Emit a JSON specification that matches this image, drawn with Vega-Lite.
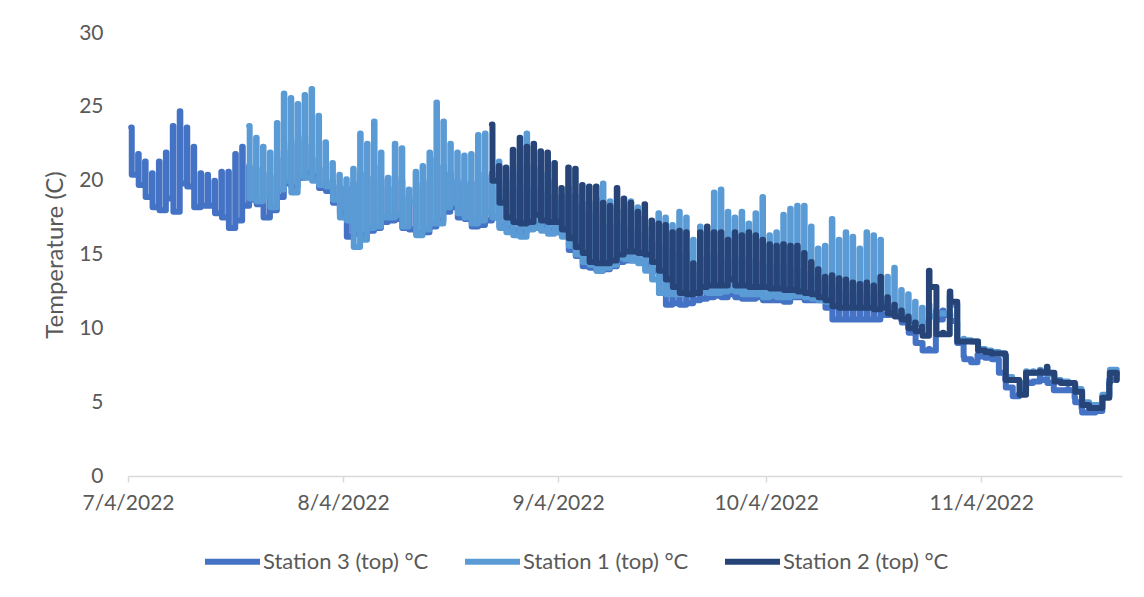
{
"$schema":"https://vega.github.io/schema/vega-lite/v6.json",
"width":994,"height":443,
"autosize":{"type":"none"},
"padding":{"left":128,"top":33,"right":22,"bottom":121},
"background":"white",
"config":{"view":{"stroke":null},"font":"Lato"},
"datasets":{
"s3":[
{"t":"2022-07-04 11:00","v":23.6},{"t":"2022-07-04 13:00","v":20.4},
{"t":"2022-07-05 11:00","v":21.8},{"t":"2022-07-05 13:00","v":19.7},
{"t":"2022-07-06 11:00","v":21.3},{"t":"2022-07-06 13:00","v":18.9},
{"t":"2022-07-07 11:00","v":20.5},{"t":"2022-07-07 13:00","v":18.2},
{"t":"2022-07-08 11:00","v":21.3},{"t":"2022-07-08 13:00","v":18.0},
{"t":"2022-07-09 11:00","v":21.9},{"t":"2022-07-09 13:00","v":18.8},
{"t":"2022-07-10 11:00","v":23.7},{"t":"2022-07-10 13:00","v":17.9},
{"t":"2022-07-11 11:00","v":24.7},{"t":"2022-07-11 13:00","v":19.8},
{"t":"2022-07-12 11:00","v":23.6},{"t":"2022-07-12 13:00","v":19.6},
{"t":"2022-07-13 11:00","v":22.3},{"t":"2022-07-13 13:00","v":18.2},
{"t":"2022-07-14 11:00","v":20.5},{"t":"2022-07-14 13:00","v":18.3},
{"t":"2022-07-15 11:00","v":20.4},{"t":"2022-07-15 13:00","v":18.3},
{"t":"2022-07-16 11:00","v":20.0},{"t":"2022-07-16 13:00","v":17.8},
{"t":"2022-07-17 11:00","v":20.6},{"t":"2022-07-17 13:00","v":17.5},
{"t":"2022-07-18 11:00","v":20.6},{"t":"2022-07-18 13:00","v":16.8},
{"t":"2022-07-19 11:00","v":21.8},{"t":"2022-07-19 13:00","v":17.3},
{"t":"2022-07-20 11:00","v":22.3},{"t":"2022-07-20 13:00","v":18.3},
{"t":"2022-07-21 11:00","v":21.0},{"t":"2022-07-21 13:00","v":18.7},
{"t":"2022-07-22 11:00","v":20.8},{"t":"2022-07-22 13:00","v":18.4},
{"t":"2022-07-23 11:00","v":20.5},{"t":"2022-07-23 13:00","v":17.5},
{"t":"2022-07-24 11:00","v":20.3},{"t":"2022-07-24 13:00","v":18.0},
{"t":"2022-07-25 11:00","v":21.5},{"t":"2022-07-25 13:00","v":18.9},
{"t":"2022-07-26 11:00","v":22.0},{"t":"2022-07-26 13:00","v":19.8},
{"t":"2022-07-27 11:00","v":22.5},{"t":"2022-07-27 13:00","v":19.6},
{"t":"2022-07-28 11:00","v":22.8},{"t":"2022-07-28 13:00","v":20.2},
{"t":"2022-07-29 11:00","v":23.0},{"t":"2022-07-29 13:00","v":20.5},
{"t":"2022-07-30 11:00","v":22.4},{"t":"2022-07-30 13:00","v":20.3},
{"t":"2022-07-31 11:00","v":21.5},{"t":"2022-07-31 13:00","v":19.5},
{"t":"2022-08-01 11:00","v":20.8},{"t":"2022-08-01 13:00","v":19.3},
{"t":"2022-08-02 11:00","v":20.0},{"t":"2022-08-02 13:00","v":18.5},
{"t":"2022-08-03 11:00","v":19.6},{"t":"2022-08-03 13:00","v":17.8},
{"t":"2022-08-04 11:00","v":19.5},{"t":"2022-08-04 13:00","v":16.2},
{"t":"2022-08-05 11:00","v":19.8},{"t":"2022-08-05 13:00","v":16.4},
{"t":"2022-08-06 11:00","v":20.5},{"t":"2022-08-06 13:00","v":16.3},
{"t":"2022-08-07 11:00","v":20.2},{"t":"2022-08-07 13:00","v":16.6},
{"t":"2022-08-08 11:00","v":21.0},{"t":"2022-08-08 13:00","v":16.8},
{"t":"2022-08-09 11:00","v":20.0},{"t":"2022-08-09 13:00","v":17.2},
{"t":"2022-08-10 11:00","v":19.5},{"t":"2022-08-10 13:00","v":17.3},
{"t":"2022-08-11 11:00","v":20.3},{"t":"2022-08-11 13:00","v":17.4},
{"t":"2022-08-12 11:00","v":20.0},{"t":"2022-08-12 13:00","v":16.8},
{"t":"2022-08-13 11:00","v":18.9},{"t":"2022-08-13 13:00","v":16.7},
{"t":"2022-08-14 11:00","v":19.5},{"t":"2022-08-14 13:00","v":16.4},
{"t":"2022-08-15 11:00","v":19.8},{"t":"2022-08-15 13:00","v":16.5},
{"t":"2022-08-16 11:00","v":20.0},{"t":"2022-08-16 13:00","v":16.9},
{"t":"2022-08-17 11:00","v":21.5},{"t":"2022-08-17 13:00","v":17.3},
{"t":"2022-08-18 11:00","v":21.0},{"t":"2022-08-18 13:00","v":17.9},
{"t":"2022-08-19 11:00","v":20.5},{"t":"2022-08-19 13:00","v":18.2},
{"t":"2022-08-20 11:00","v":20.0},{"t":"2022-08-20 13:00","v":17.5},
{"t":"2022-08-21 11:00","v":19.8},{"t":"2022-08-21 13:00","v":17.4},
{"t":"2022-08-22 11:00","v":19.9},{"t":"2022-08-22 13:00","v":16.9},
{"t":"2022-08-23 11:00","v":20.5},{"t":"2022-08-23 13:00","v":17.0},
{"t":"2022-08-24 11:00","v":20.3},{"t":"2022-08-24 13:00","v":17.3},
{"t":"2022-08-25 11:00","v":20.0},{"t":"2022-08-25 13:00","v":17.5},
{"t":"2022-08-26 11:00","v":19.5},{"t":"2022-08-26 13:00","v":16.9},
{"t":"2022-08-27 11:00","v":19.0},{"t":"2022-08-27 13:00","v":16.8},
{"t":"2022-08-28 11:00","v":19.5},{"t":"2022-08-28 13:00","v":16.6},
{"t":"2022-08-29 11:00","v":19.8},{"t":"2022-08-29 13:00","v":16.5},
{"t":"2022-08-30 11:00","v":19.6},{"t":"2022-08-30 13:00","v":16.8},
{"t":"2022-08-31 11:00","v":19.5},{"t":"2022-08-31 13:00","v":17.0},
{"t":"2022-09-01 11:00","v":19.3},{"t":"2022-09-01 13:00","v":16.9},
{"t":"2022-09-02 11:00","v":19.2},{"t":"2022-09-02 13:00","v":16.6},
{"t":"2022-09-03 11:00","v":19.0},{"t":"2022-09-03 13:00","v":16.5},
{"t":"2022-09-04 11:00","v":18.5},{"t":"2022-09-04 13:00","v":16.3},
{"t":"2022-09-05 11:00","v":18.5},{"t":"2022-09-05 13:00","v":15.3},
{"t":"2022-09-06 11:00","v":18.3},{"t":"2022-09-06 13:00","v":14.9},
{"t":"2022-09-07 11:00","v":17.9},{"t":"2022-09-07 13:00","v":14.2},
{"t":"2022-09-08 11:00","v":17.8},{"t":"2022-09-08 13:00","v":14.1},
{"t":"2022-09-09 11:00","v":17.6},{"t":"2022-09-09 13:00","v":13.9},
{"t":"2022-09-10 11:00","v":17.0},{"t":"2022-09-10 13:00","v":14.0},
{"t":"2022-09-11 11:00","v":17.0},{"t":"2022-09-11 13:00","v":14.2},
{"t":"2022-09-12 11:00","v":17.2},{"t":"2022-09-12 13:00","v":14.5},
{"t":"2022-09-13 11:00","v":17.0},{"t":"2022-09-13 13:00","v":14.6},
{"t":"2022-09-14 11:00","v":16.8},{"t":"2022-09-14 13:00","v":14.6},
{"t":"2022-09-15 11:00","v":16.5},{"t":"2022-09-15 13:00","v":14.5},
{"t":"2022-09-16 11:00","v":16.5},{"t":"2022-09-16 13:00","v":14.3},
{"t":"2022-09-17 11:00","v":16.0},{"t":"2022-09-17 13:00","v":13.9},
{"t":"2022-09-18 11:00","v":15.8},{"t":"2022-09-18 13:00","v":12.4},
{"t":"2022-09-19 11:00","v":15.5},{"t":"2022-09-19 13:00","v":11.6},
{"t":"2022-09-20 11:00","v":15.2},{"t":"2022-09-20 13:00","v":11.7},
{"t":"2022-09-21 11:00","v":15.0},{"t":"2022-09-21 13:00","v":11.6},
{"t":"2022-09-22 11:00","v":15.0},{"t":"2022-09-22 13:00","v":11.7},
{"t":"2022-09-23 11:00","v":13.8},{"t":"2022-09-23 13:00","v":11.9},
{"t":"2022-09-24 11:00","v":14.8},{"t":"2022-09-24 13:00","v":12.0},
{"t":"2022-09-25 11:00","v":15.0},{"t":"2022-09-25 13:00","v":12.1},
{"t":"2022-09-26 11:00","v":15.0},{"t":"2022-09-26 13:00","v":12.2},
{"t":"2022-09-27 11:00","v":14.8},{"t":"2022-09-27 13:00","v":12.1},
{"t":"2022-09-28 11:00","v":14.6},{"t":"2022-09-28 13:00","v":12.3},
{"t":"2022-09-29 11:00","v":14.8},{"t":"2022-09-29 13:00","v":12.1},
{"t":"2022-09-30 11:00","v":14.7},{"t":"2022-09-30 13:00","v":12.0},
{"t":"2022-10-01 11:00","v":14.8},{"t":"2022-10-01 13:00","v":12.0},
{"t":"2022-10-02 11:00","v":14.6},{"t":"2022-10-02 13:00","v":12.1},
{"t":"2022-10-03 11:00","v":14.5},{"t":"2022-10-03 13:00","v":11.9},
{"t":"2022-10-04 11:00","v":14.3},{"t":"2022-10-04 13:00","v":11.9},
{"t":"2022-10-05 11:00","v":14.2},{"t":"2022-10-05 13:00","v":11.9},
{"t":"2022-10-06 11:00","v":14.2},{"t":"2022-10-06 13:00","v":11.8},
{"t":"2022-10-07 11:00","v":14.0},{"t":"2022-10-07 13:00","v":12.1},
{"t":"2022-10-08 11:00","v":14.0},{"t":"2022-10-08 13:00","v":12.1},
{"t":"2022-10-09 11:00","v":13.8},{"t":"2022-10-09 13:00","v":11.9},
{"t":"2022-10-10 11:00","v":13.5},{"t":"2022-10-10 13:00","v":11.9},
{"t":"2022-10-11 11:00","v":13.2},{"t":"2022-10-11 13:00","v":11.9},
{"t":"2022-10-12 11:00","v":12.9},{"t":"2022-10-12 13:00","v":11.4},
{"t":"2022-10-13 11:00","v":12.8},{"t":"2022-10-13 13:00","v":10.6},
{"t":"2022-10-14 11:00","v":12.6},{"t":"2022-10-14 13:00","v":10.6},
{"t":"2022-10-15 11:00","v":12.5},{"t":"2022-10-15 13:00","v":10.6},
{"t":"2022-10-16 11:00","v":12.4},{"t":"2022-10-16 13:00","v":10.6},
{"t":"2022-10-17 11:00","v":12.3},{"t":"2022-10-17 13:00","v":10.6},
{"t":"2022-10-18 11:00","v":12.4},{"t":"2022-10-18 13:00","v":10.6},
{"t":"2022-10-19 11:00","v":12.2},{"t":"2022-10-19 13:00","v":10.6},
{"t":"2022-10-20 11:00","v":12.5},{"t":"2022-10-20 13:00","v":10.9},
{"t":"2022-10-21 11:00","v":11.5},{"t":"2022-10-21 13:00","v":10.9},
{"t":"2022-10-22 11:00","v":11.0},{"t":"2022-10-22 13:00","v":10.9},
{"t":"2022-10-23 11:00","v":10.6},{"t":"2022-10-23 13:00","v":10.4},
{"t":"2022-10-24 11:00","v":10.0},{"t":"2022-10-24 13:00","v":9.7},
{"t":"2022-10-25 11:00","v":9.7},{"t":"2022-10-25 13:00","v":9.0},
{"t":"2022-10-26 11:00","v":9.0},{"t":"2022-10-26 13:00","v":8.5},
{"t":"2022-10-27 11:00","v":8.6},{"t":"2022-10-27 13:00","v":8.5},
{"t":"2022-10-28 11:00","v":10.8},{"t":"2022-10-28 13:00","v":10.6},
{"t":"2022-10-29 11:00","v":11.2},{"t":"2022-10-29 13:00","v":10.9},
{"t":"2022-10-30 11:00","v":11.0},{"t":"2022-10-30 13:00","v":10.5},
{"t":"2022-10-31 11:00","v":10.4},{"t":"2022-10-31 13:00","v":9.0},
{"t":"2022-11-01 11:00","v":8.1},{"t":"2022-11-01 13:00","v":7.9},
{"t":"2022-11-02 11:00","v":7.9},{"t":"2022-11-02 13:00","v":7.7},
{"t":"2022-11-03 11:00","v":8.2},{"t":"2022-11-03 13:00","v":8.1},
{"t":"2022-11-04 11:00","v":8.1},{"t":"2022-11-04 13:00","v":8.0},
{"t":"2022-11-05 11:00","v":8.0},{"t":"2022-11-05 13:00","v":7.9},
{"t":"2022-11-06 11:00","v":7.9},{"t":"2022-11-06 13:00","v":7.0},
{"t":"2022-11-07 11:00","v":6.5},{"t":"2022-11-07 13:00","v":6.0},
{"t":"2022-11-08 11:00","v":6.0},{"t":"2022-11-08 13:00","v":5.4},
{"t":"2022-11-09 11:00","v":5.6},{"t":"2022-11-09 13:00","v":5.6},
{"t":"2022-11-10 11:00","v":6.5},{"t":"2022-11-10 13:00","v":6.3},
{"t":"2022-11-11 11:00","v":6.4},{"t":"2022-11-11 13:00","v":6.4},
{"t":"2022-11-12 11:00","v":6.8},{"t":"2022-11-12 13:00","v":6.5},
{"t":"2022-11-13 11:00","v":6.6},{"t":"2022-11-13 13:00","v":6.3},
{"t":"2022-11-14 11:00","v":5.8},{"t":"2022-11-14 13:00","v":5.8},
{"t":"2022-11-15 11:00","v":5.8},{"t":"2022-11-15 13:00","v":5.8},
{"t":"2022-11-16 11:00","v":5.9},{"t":"2022-11-16 13:00","v":5.8},
{"t":"2022-11-17 11:00","v":5.3},{"t":"2022-11-17 13:00","v":5.0},
{"t":"2022-11-18 11:00","v":4.6},{"t":"2022-11-18 13:00","v":4.3},
{"t":"2022-11-19 11:00","v":4.3},{"t":"2022-11-19 13:00","v":4.3},
{"t":"2022-11-20 11:00","v":4.4},{"t":"2022-11-20 13:00","v":4.4},
{"t":"2022-11-21 11:00","v":5.4},{"t":"2022-11-21 13:00","v":5.4},
{"t":"2022-11-22 11:00","v":6.5},{"t":"2022-11-22 13:00","v":6.5},
{"t":"2022-11-23 11:00","v":7.0},{"t":"2022-11-23 13:00","v":6.9}
],
"s1":[
{"t":"2022-07-21 11:00","v":23.7},{"t":"2022-07-21 13:00","v":18.8},
{"t":"2022-07-22 11:00","v":22.9},{"t":"2022-07-22 13:00","v":18.6},
{"t":"2022-07-23 11:00","v":22.3},{"t":"2022-07-23 13:00","v":19.0},
{"t":"2022-07-24 11:00","v":21.9},{"t":"2022-07-24 13:00","v":18.2},
{"t":"2022-07-25 11:00","v":23.9},{"t":"2022-07-25 13:00","v":19.4},
{"t":"2022-07-26 11:00","v":25.9},{"t":"2022-07-26 13:00","v":20.0},
{"t":"2022-07-27 11:00","v":25.6},{"t":"2022-07-27 13:00","v":19.2},
{"t":"2022-07-28 11:00","v":25.2},{"t":"2022-07-28 13:00","v":20.3},
{"t":"2022-07-29 11:00","v":25.8},{"t":"2022-07-29 13:00","v":20.2},
{"t":"2022-07-30 11:00","v":26.2},{"t":"2022-07-30 13:00","v":20.0},
{"t":"2022-07-31 11:00","v":24.4},{"t":"2022-07-31 13:00","v":19.7},
{"t":"2022-08-01 11:00","v":22.6},{"t":"2022-08-01 13:00","v":19.6},
{"t":"2022-08-02 11:00","v":21.2},{"t":"2022-08-02 13:00","v":18.7},
{"t":"2022-08-03 11:00","v":20.4},{"t":"2022-08-03 13:00","v":17.5},
{"t":"2022-08-04 11:00","v":20.1},{"t":"2022-08-04 13:00","v":17.3},
{"t":"2022-08-05 11:00","v":20.8},{"t":"2022-08-05 13:00","v":15.5},
{"t":"2022-08-06 11:00","v":23.2},{"t":"2022-08-06 13:00","v":16.0},
{"t":"2022-08-07 11:00","v":22.5},{"t":"2022-08-07 13:00","v":16.8},
{"t":"2022-08-08 11:00","v":24.0},{"t":"2022-08-08 13:00","v":16.9},
{"t":"2022-08-09 11:00","v":21.9},{"t":"2022-08-09 13:00","v":17.5},
{"t":"2022-08-10 11:00","v":20.2},{"t":"2022-08-10 13:00","v":17.5},
{"t":"2022-08-11 11:00","v":22.5},{"t":"2022-08-11 13:00","v":17.7},
{"t":"2022-08-12 11:00","v":22.2},{"t":"2022-08-12 13:00","v":16.9},
{"t":"2022-08-13 11:00","v":19.4},{"t":"2022-08-13 13:00","v":18.5},
{"t":"2022-08-14 11:00","v":20.6},{"t":"2022-08-14 13:00","v":16.3},
{"t":"2022-08-15 11:00","v":21.0},{"t":"2022-08-15 13:00","v":16.7},
{"t":"2022-08-16 11:00","v":21.9},{"t":"2022-08-16 13:00","v":17.1},
{"t":"2022-08-17 11:00","v":25.3},{"t":"2022-08-17 13:00","v":17.1},
{"t":"2022-08-18 11:00","v":24.0},{"t":"2022-08-18 13:00","v":18.2},
{"t":"2022-08-19 11:00","v":22.5},{"t":"2022-08-19 13:00","v":18.5},
{"t":"2022-08-20 11:00","v":21.9},{"t":"2022-08-20 13:00","v":17.8},
{"t":"2022-08-21 11:00","v":21.7},{"t":"2022-08-21 13:00","v":17.5},
{"t":"2022-08-22 11:00","v":21.8},{"t":"2022-08-22 13:00","v":17.1},
{"t":"2022-08-23 11:00","v":23.1},{"t":"2022-08-23 13:00","v":17.3},
{"t":"2022-08-24 11:00","v":23.2},{"t":"2022-08-24 13:00","v":17.9},
{"t":"2022-08-25 11:00","v":20.5},{"t":"2022-08-25 13:00","v":17.5},
{"t":"2022-08-26 11:00","v":21.3},{"t":"2022-08-26 13:00","v":16.8},
{"t":"2022-08-27 11:00","v":20.0},{"t":"2022-08-27 13:00","v":16.5},
{"t":"2022-08-28 11:00","v":20.5},{"t":"2022-08-28 13:00","v":16.3},
{"t":"2022-08-29 11:00","v":21.0},{"t":"2022-08-29 13:00","v":16.2},
{"t":"2022-08-30 11:00","v":23.2},{"t":"2022-08-30 13:00","v":16.7},
{"t":"2022-08-31 11:00","v":21.0},{"t":"2022-08-31 13:00","v":16.8},
{"t":"2022-09-01 11:00","v":20.8},{"t":"2022-09-01 13:00","v":16.6},
{"t":"2022-09-02 11:00","v":20.5},{"t":"2022-09-02 13:00","v":16.4},
{"t":"2022-09-03 11:00","v":20.0},{"t":"2022-09-03 13:00","v":16.5},
{"t":"2022-09-04 11:00","v":19.0},{"t":"2022-09-04 13:00","v":16.2},
{"t":"2022-09-05 11:00","v":19.5},{"t":"2022-09-05 13:00","v":15.6},
{"t":"2022-09-06 11:00","v":19.0},{"t":"2022-09-06 13:00","v":15.0},
{"t":"2022-09-07 11:00","v":18.5},{"t":"2022-09-07 13:00","v":14.5},
{"t":"2022-09-08 11:00","v":18.5},{"t":"2022-09-08 13:00","v":14.3},
{"t":"2022-09-09 11:00","v":18.8},{"t":"2022-09-09 13:00","v":13.9},
{"t":"2022-09-10 11:00","v":19.8},{"t":"2022-09-10 13:00","v":14.1},
{"t":"2022-09-11 11:00","v":18.6},{"t":"2022-09-11 13:00","v":14.3},
{"t":"2022-09-12 11:00","v":18.0},{"t":"2022-09-12 13:00","v":14.8},
{"t":"2022-09-13 11:00","v":18.0},{"t":"2022-09-13 13:00","v":14.7},
{"t":"2022-09-14 11:00","v":18.6},{"t":"2022-09-14 13:00","v":14.6},
{"t":"2022-09-15 11:00","v":18.2},{"t":"2022-09-15 13:00","v":14.4},
{"t":"2022-09-16 11:00","v":17.5},{"t":"2022-09-16 13:00","v":13.9},
{"t":"2022-09-17 11:00","v":16.8},{"t":"2022-09-17 13:00","v":13.3},
{"t":"2022-09-18 11:00","v":17.8},{"t":"2022-09-18 13:00","v":12.4},
{"t":"2022-09-19 11:00","v":17.5},{"t":"2022-09-19 13:00","v":12.3},
{"t":"2022-09-20 11:00","v":17.0},{"t":"2022-09-20 13:00","v":12.3},
{"t":"2022-09-21 11:00","v":17.9},{"t":"2022-09-21 13:00","v":12.3},
{"t":"2022-09-22 11:00","v":17.5},{"t":"2022-09-22 13:00","v":12.4},
{"t":"2022-09-23 11:00","v":16.0},{"t":"2022-09-23 13:00","v":12.5},
{"t":"2022-09-24 11:00","v":16.9},{"t":"2022-09-24 13:00","v":12.5},
{"t":"2022-09-25 11:00","v":16.5},{"t":"2022-09-25 13:00","v":12.4},
{"t":"2022-09-26 11:00","v":19.2},{"t":"2022-09-26 13:00","v":12.4},
{"t":"2022-09-27 11:00","v":19.4},{"t":"2022-09-27 13:00","v":12.5},
{"t":"2022-09-28 11:00","v":17.9},{"t":"2022-09-28 13:00","v":12.6},
{"t":"2022-09-29 11:00","v":17.5},{"t":"2022-09-29 13:00","v":12.5},
{"t":"2022-09-30 11:00","v":17.9},{"t":"2022-09-30 13:00","v":12.3},
{"t":"2022-10-01 11:00","v":17.1},{"t":"2022-10-01 13:00","v":12.3},
{"t":"2022-10-02 11:00","v":17.8},{"t":"2022-10-02 13:00","v":12.3},
{"t":"2022-10-03 11:00","v":18.9},{"t":"2022-10-03 13:00","v":12.1},
{"t":"2022-10-04 11:00","v":16.3},{"t":"2022-10-04 13:00","v":12.2},
{"t":"2022-10-05 11:00","v":16.5},{"t":"2022-10-05 13:00","v":12.1},
{"t":"2022-10-06 11:00","v":17.7},{"t":"2022-10-06 13:00","v":12.1},
{"t":"2022-10-07 11:00","v":18.1},{"t":"2022-10-07 13:00","v":12.2},
{"t":"2022-10-08 11:00","v":18.3},{"t":"2022-10-08 13:00","v":12.2},
{"t":"2022-10-09 11:00","v":18.3},{"t":"2022-10-09 13:00","v":12.1},
{"t":"2022-10-10 11:00","v":16.9},{"t":"2022-10-10 13:00","v":12.0},
{"t":"2022-10-11 11:00","v":15.4},{"t":"2022-10-11 13:00","v":11.9},
{"t":"2022-10-12 11:00","v":15.6},{"t":"2022-10-12 13:00","v":11.8},
{"t":"2022-10-13 11:00","v":17.4},{"t":"2022-10-13 13:00","v":11.6},
{"t":"2022-10-14 11:00","v":16.0},{"t":"2022-10-14 13:00","v":11.6},
{"t":"2022-10-15 11:00","v":16.5},{"t":"2022-10-15 13:00","v":11.6},
{"t":"2022-10-16 11:00","v":16.2},{"t":"2022-10-16 13:00","v":11.6},
{"t":"2022-10-17 11:00","v":15.4},{"t":"2022-10-17 13:00","v":11.6},
{"t":"2022-10-18 11:00","v":16.5},{"t":"2022-10-18 13:00","v":11.6},
{"t":"2022-10-19 11:00","v":16.3},{"t":"2022-10-19 13:00","v":11.6},
{"t":"2022-10-20 11:00","v":16.0},{"t":"2022-10-20 13:00","v":11.7},
{"t":"2022-10-21 11:00","v":13.5},{"t":"2022-10-21 13:00","v":11.3},
{"t":"2022-10-22 11:00","v":14.1},{"t":"2022-10-22 13:00","v":11.1},
{"t":"2022-10-23 11:00","v":12.6},{"t":"2022-10-23 13:00","v":10.9},
{"t":"2022-10-24 11:00","v":12.3},{"t":"2022-10-24 13:00","v":10.5},
{"t":"2022-10-25 11:00","v":11.8},{"t":"2022-10-25 13:00","v":10.3},
{"t":"2022-10-26 11:00","v":11.4},{"t":"2022-10-26 13:00","v":10.4},
{"t":"2022-10-27 11:00","v":11.6},{"t":"2022-10-27 13:00","v":10.8},
{"t":"2022-10-28 11:00","v":11.2},{"t":"2022-10-28 13:00","v":11.0},
{"t":"2022-10-29 11:00","v":11.0},{"t":"2022-10-29 13:00","v":11.0},
{"t":"2022-10-30 11:00","v":12.2},{"t":"2022-10-30 13:00","v":11.6},
{"t":"2022-10-31 11:00","v":11.6},{"t":"2022-10-31 13:00","v":9.2},
{"t":"2022-11-01 11:00","v":9.3},{"t":"2022-11-01 13:00","v":9.2},
{"t":"2022-11-02 11:00","v":9.2},{"t":"2022-11-02 13:00","v":9.1},
{"t":"2022-11-03 11:00","v":9.1},{"t":"2022-11-03 13:00","v":8.6},
{"t":"2022-11-04 11:00","v":8.6},{"t":"2022-11-04 13:00","v":8.5},
{"t":"2022-11-05 11:00","v":8.4},{"t":"2022-11-05 13:00","v":8.4},
{"t":"2022-11-06 11:00","v":8.4},{"t":"2022-11-06 13:00","v":8.3},
{"t":"2022-11-07 11:00","v":8.1},{"t":"2022-11-07 13:00","v":6.7},
{"t":"2022-11-08 11:00","v":6.6},{"t":"2022-11-08 13:00","v":6.5},
{"t":"2022-11-09 11:00","v":6.4},{"t":"2022-11-09 13:00","v":5.8},
{"t":"2022-11-10 11:00","v":7.1},{"t":"2022-11-10 13:00","v":7.0},
{"t":"2022-11-11 11:00","v":7.1},{"t":"2022-11-11 13:00","v":7.0},
{"t":"2022-11-12 11:00","v":7.2},{"t":"2022-11-12 13:00","v":7.1},
{"t":"2022-11-13 11:00","v":7.3},{"t":"2022-11-13 13:00","v":6.9},
{"t":"2022-11-14 11:00","v":6.8},{"t":"2022-11-14 13:00","v":6.5},
{"t":"2022-11-15 11:00","v":6.4},{"t":"2022-11-15 13:00","v":6.4},
{"t":"2022-11-16 11:00","v":6.4},{"t":"2022-11-16 13:00","v":6.3},
{"t":"2022-11-17 11:00","v":6.3},{"t":"2022-11-17 13:00","v":5.9},
{"t":"2022-11-18 11:00","v":5.8},{"t":"2022-11-18 13:00","v":5.0},
{"t":"2022-11-19 11:00","v":5.0},{"t":"2022-11-19 13:00","v":4.8},
{"t":"2022-11-20 11:00","v":4.8},{"t":"2022-11-20 13:00","v":4.8},
{"t":"2022-11-21 11:00","v":5.5},{"t":"2022-11-21 13:00","v":5.5},
{"t":"2022-11-22 11:00","v":6.5},{"t":"2022-11-22 13:00","v":7.2},
{"t":"2022-11-23 11:00","v":7.2},{"t":"2022-11-23 13:00","v":7.2}
],
"s2":[
{"t":"2022-08-25 11:00","v":23.8},{"t":"2022-08-25 13:00","v":20.0},
{"t":"2022-08-26 11:00","v":21.0},{"t":"2022-08-26 13:00","v":18.5},
{"t":"2022-08-27 11:00","v":20.9},{"t":"2022-08-27 13:00","v":17.5},
{"t":"2022-08-28 11:00","v":22.1},{"t":"2022-08-28 13:00","v":17.2},
{"t":"2022-08-29 11:00","v":22.9},{"t":"2022-08-29 13:00","v":17.1},
{"t":"2022-08-30 11:00","v":22.3},{"t":"2022-08-30 13:00","v":17.2},
{"t":"2022-08-31 11:00","v":22.5},{"t":"2022-08-31 13:00","v":17.7},
{"t":"2022-09-01 11:00","v":22.0},{"t":"2022-09-01 13:00","v":17.3},
{"t":"2022-09-02 11:00","v":21.9},{"t":"2022-09-02 13:00","v":17.2},
{"t":"2022-09-03 11:00","v":21.2},{"t":"2022-09-03 13:00","v":17.2},
{"t":"2022-09-04 11:00","v":19.5},{"t":"2022-09-04 13:00","v":16.7},
{"t":"2022-09-05 11:00","v":20.9},{"t":"2022-09-05 13:00","v":16.1},
{"t":"2022-09-06 11:00","v":20.8},{"t":"2022-09-06 13:00","v":15.5},
{"t":"2022-09-07 11:00","v":19.7},{"t":"2022-09-07 13:00","v":15.1},
{"t":"2022-09-08 11:00","v":19.6},{"t":"2022-09-08 13:00","v":14.5},
{"t":"2022-09-09 11:00","v":19.6},{"t":"2022-09-09 13:00","v":14.4},
{"t":"2022-09-10 11:00","v":18.5},{"t":"2022-09-10 13:00","v":14.4},
{"t":"2022-09-11 11:00","v":18.3},{"t":"2022-09-11 13:00","v":14.6},
{"t":"2022-09-12 11:00","v":19.5},{"t":"2022-09-12 13:00","v":15.0},
{"t":"2022-09-13 11:00","v":18.8},{"t":"2022-09-13 13:00","v":15.2},
{"t":"2022-09-14 11:00","v":18.5},{"t":"2022-09-14 13:00","v":15.2},
{"t":"2022-09-15 11:00","v":17.9},{"t":"2022-09-15 13:00","v":15.1},
{"t":"2022-09-16 11:00","v":18.4},{"t":"2022-09-16 13:00","v":15.0},
{"t":"2022-09-17 11:00","v":17.3},{"t":"2022-09-17 13:00","v":14.5},
{"t":"2022-09-18 11:00","v":17.1},{"t":"2022-09-18 13:00","v":13.9},
{"t":"2022-09-19 11:00","v":17.0},{"t":"2022-09-19 13:00","v":13.3},
{"t":"2022-09-20 11:00","v":16.5},{"t":"2022-09-20 13:00","v":12.8},
{"t":"2022-09-21 11:00","v":16.6},{"t":"2022-09-21 13:00","v":12.4},
{"t":"2022-09-22 11:00","v":16.5},{"t":"2022-09-22 13:00","v":12.3},
{"t":"2022-09-23 11:00","v":14.4},{"t":"2022-09-23 13:00","v":12.4},
{"t":"2022-09-24 11:00","v":16.5},{"t":"2022-09-24 13:00","v":12.8},
{"t":"2022-09-25 11:00","v":16.9},{"t":"2022-09-25 13:00","v":12.9},
{"t":"2022-09-26 11:00","v":16.5},{"t":"2022-09-26 13:00","v":12.9},
{"t":"2022-09-27 11:00","v":16.5},{"t":"2022-09-27 13:00","v":12.9},
{"t":"2022-09-28 11:00","v":16.0},{"t":"2022-09-28 13:00","v":13.3},
{"t":"2022-09-29 11:00","v":16.5},{"t":"2022-09-29 13:00","v":12.9},
{"t":"2022-09-30 11:00","v":16.3},{"t":"2022-09-30 13:00","v":12.9},
{"t":"2022-10-01 11:00","v":16.5},{"t":"2022-10-01 13:00","v":12.8},
{"t":"2022-10-02 11:00","v":16.3},{"t":"2022-10-02 13:00","v":12.8},
{"t":"2022-10-03 11:00","v":16.0},{"t":"2022-10-03 13:00","v":12.8},
{"t":"2022-10-04 11:00","v":15.7},{"t":"2022-10-04 13:00","v":12.7},
{"t":"2022-10-05 11:00","v":15.6},{"t":"2022-10-05 13:00","v":12.7},
{"t":"2022-10-06 11:00","v":15.7},{"t":"2022-10-06 13:00","v":12.6},
{"t":"2022-10-07 11:00","v":15.6},{"t":"2022-10-07 13:00","v":12.6},
{"t":"2022-10-08 11:00","v":15.6},{"t":"2022-10-08 13:00","v":12.5},
{"t":"2022-10-09 11:00","v":15.1},{"t":"2022-10-09 13:00","v":12.4},
{"t":"2022-10-10 11:00","v":14.5},{"t":"2022-10-10 13:00","v":12.3},
{"t":"2022-10-11 11:00","v":14.0},{"t":"2022-10-11 13:00","v":12.1},
{"t":"2022-10-12 11:00","v":13.5},{"t":"2022-10-12 13:00","v":11.9},
{"t":"2022-10-13 11:00","v":13.6},{"t":"2022-10-13 13:00","v":11.5},
{"t":"2022-10-14 11:00","v":13.4},{"t":"2022-10-14 13:00","v":11.4},
{"t":"2022-10-15 11:00","v":13.3},{"t":"2022-10-15 13:00","v":11.4},
{"t":"2022-10-16 11:00","v":13.1},{"t":"2022-10-16 13:00","v":11.4},
{"t":"2022-10-17 11:00","v":13.0},{"t":"2022-10-17 13:00","v":11.4},
{"t":"2022-10-18 11:00","v":13.1},{"t":"2022-10-18 13:00","v":11.4},
{"t":"2022-10-19 11:00","v":12.9},{"t":"2022-10-19 13:00","v":11.3},
{"t":"2022-10-20 11:00","v":13.5},{"t":"2022-10-20 13:00","v":11.4},
{"t":"2022-10-21 11:00","v":12.1},{"t":"2022-10-21 13:00","v":11.0},
{"t":"2022-10-22 11:00","v":11.6},{"t":"2022-10-22 13:00","v":10.8},
{"t":"2022-10-23 11:00","v":11.2},{"t":"2022-10-23 13:00","v":10.6},
{"t":"2022-10-24 11:00","v":10.8},{"t":"2022-10-24 13:00","v":10.0},
{"t":"2022-10-25 11:00","v":10.4},{"t":"2022-10-25 13:00","v":9.8},
{"t":"2022-10-26 11:00","v":10.1},{"t":"2022-10-26 13:00","v":9.5},
{"t":"2022-10-27 11:00","v":13.9},{"t":"2022-10-27 13:00","v":12.8},
{"t":"2022-10-28 11:00","v":12.8},{"t":"2022-10-28 13:00","v":9.6},
{"t":"2022-10-29 11:00","v":9.7},{"t":"2022-10-29 13:00","v":9.6},
{"t":"2022-10-30 11:00","v":12.5},{"t":"2022-10-30 13:00","v":11.8},
{"t":"2022-10-31 11:00","v":11.8},{"t":"2022-10-31 13:00","v":9.1},
{"t":"2022-11-01 11:00","v":9.1},{"t":"2022-11-01 13:00","v":9.1},
{"t":"2022-11-02 11:00","v":9.1},{"t":"2022-11-02 13:00","v":9.1},
{"t":"2022-11-03 11:00","v":9.1},{"t":"2022-11-03 13:00","v":8.5},
{"t":"2022-11-04 11:00","v":8.5},{"t":"2022-11-04 13:00","v":8.4},
{"t":"2022-11-05 11:00","v":8.3},{"t":"2022-11-05 13:00","v":8.3},
{"t":"2022-11-06 11:00","v":8.3},{"t":"2022-11-06 13:00","v":8.3},
{"t":"2022-11-07 11:00","v":8.2},{"t":"2022-11-07 13:00","v":6.5},
{"t":"2022-11-08 11:00","v":6.5},{"t":"2022-11-08 13:00","v":6.5},
{"t":"2022-11-09 11:00","v":6.4},{"t":"2022-11-09 13:00","v":5.5},
{"t":"2022-11-10 11:00","v":7.0},{"t":"2022-11-10 13:00","v":7.0},
{"t":"2022-11-11 11:00","v":7.0},{"t":"2022-11-11 13:00","v":7.0},
{"t":"2022-11-12 11:00","v":7.1},{"t":"2022-11-12 13:00","v":7.0},
{"t":"2022-11-13 11:00","v":7.4},{"t":"2022-11-13 13:00","v":7.0},
{"t":"2022-11-14 11:00","v":7.0},{"t":"2022-11-14 13:00","v":6.4},
{"t":"2022-11-15 11:00","v":6.3},{"t":"2022-11-15 13:00","v":6.3},
{"t":"2022-11-16 11:00","v":6.3},{"t":"2022-11-16 13:00","v":6.3},
{"t":"2022-11-17 11:00","v":6.2},{"t":"2022-11-17 13:00","v":5.7},
{"t":"2022-11-18 11:00","v":5.7},{"t":"2022-11-18 13:00","v":4.8},
{"t":"2022-11-19 11:00","v":4.8},{"t":"2022-11-19 13:00","v":4.6},
{"t":"2022-11-20 11:00","v":4.6},{"t":"2022-11-20 13:00","v":4.6},
{"t":"2022-11-21 11:00","v":5.3},{"t":"2022-11-21 13:00","v":5.3},
{"t":"2022-11-22 11:00","v":6.3},{"t":"2022-11-22 13:00","v":7.0},
{"t":"2022-11-23 11:00","v":7.0},{"t":"2022-11-23 13:00","v":6.5}
]
},
"encoding":{
"x":{"field":"t","type":"temporal",
"scale":{"domain":[{"year":2022,"month":7,"date":4},{"year":2022,"month":11,"date":24,"hours":7}]},
"axis":{"values":[{"year":2022,"month":7,"date":4},{"year":2022,"month":8,"date":4},{"year":2022,"month":9,"date":4},{"year":2022,"month":10,"date":4},{"year":2022,"month":11,"date":4}],
"format":"%-m/%-d/%Y","title":null,"grid":false,"domainColor":"#D9D9D9","domainWidth":1.5,"tickColor":"#D9D9D9","tickWidth":1.5,"tickSize":6,"labelFont":"Lato","labelFontSize":21,"labelColor":"#595959","labelPadding":10,"labelFlush":false,"labelOverlap":false}},
"y":{"field":"v","type":"quantitative","scale":{"domain":[0,30],"nice":false,"zero":true},
"axis":{"values":[0,5,10,15,20,25,30],"title":"Temperature (C)","grid":false,"domain":false,"ticks":false,"labelPadding":25,"labelFont":"Lato","labelFontSize":21,"labelColor":"#595959","titleFont":"Lato","titleFontSize":24,"titleFontWeight":"normal","titleColor":"#595959","titlePadding":11}}
},
"layer":[
{"data":{"name":"s3"},"mark":{"type":"line","interpolate":"step-after","strokeWidth":6,"strokeJoin":"round","strokeCap":"round"},
"encoding":{"color":{"datum":"Station 3 (top) °C","type":"nominal","scale":{"domain":["Station 3 (top) °C","Station 1 (top) °C","Station 2 (top) °C"],"range":["#4472C4","#5B9BD5","#264478"]},
"legend":{"orient":"none","legendX":74,"legendY":498,"direction":"horizontal","title":null,"symbolType":"stroke","symbolSize":3025,"symbolStrokeWidth":6,"labelFont":"Lato","labelFontSize":22,"labelLimit":400,"labelColor":"#595959","labelOffset":0,"columnPadding":24,"padding":0}}}},
{"data":{"name":"s1"},"mark":{"type":"line","interpolate":"step-after","strokeWidth":6,"strokeJoin":"round","strokeCap":"round"},
"encoding":{"color":{"datum":"Station 1 (top) °C","type":"nominal"}}},
{"data":{"name":"s2"},"mark":{"type":"line","interpolate":"step-after","strokeWidth":6,"strokeJoin":"round","strokeCap":"round"},
"encoding":{"color":{"datum":"Station 2 (top) °C","type":"nominal"}}}
]
}
